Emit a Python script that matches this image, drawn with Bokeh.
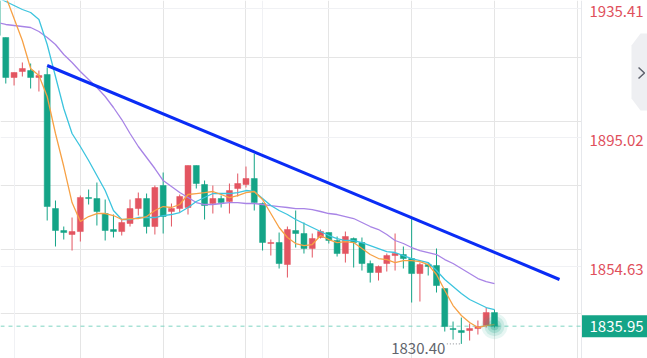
from bokeh.plotting import figure
from bokeh.models import (ColumnDataSource, Range1d, LinearAxis, FixedTicker, Grid,
                          CustomJSTickFormatter, Span)
from bokeh.core.properties import value
from bokeh.embed import file_html
from bokeh.resources import INLINE

# ---------------- data ----------------
opens = [1944.17, 1926.33, 1913.80, 1915.68, 1915.99, 1913.80, 1914.74, 1872.78, 1865.90, 1864.65,
         1865.58, 1876.23, 1875.91, 1871.22, 1866.21, 1865.58, 1868.09, 1872.78, 1875.91, 1867.15,
         1879.99, 1871.85, 1872.78, 1873.10, 1886.25, 1880.30, 1874.35, 1875.91, 1874.98, 1879.05,
         1880.30, 1882.18, 1874.35, 1861.83, 1862.14, 1855.25, 1865.90, 1864.96, 1860.26, 1863.71,
         1865.27, 1862.77, 1858.69, 1863.39, 1862.14, 1855.56, 1852.75, 1855.56, 1858.07, 1858.38,
         1857.13, 1852.43, 1855.25, 1854.94, 1847.74, 1835.21, 1834.59, 1834.59, 1835.21, 1836.15,
         1840.22]
highs = [1944.17, 1926.33, 1915.37, 1918.50, 1918.18, 1915.99, 1916.93, 1875.29, 1867.15, 1869.97,
         1876.85, 1878.73, 1880.93, 1875.60, 1870.91, 1869.34, 1875.60, 1877.79, 1877.48, 1879.99,
         1884.06, 1874.35, 1877.17, 1886.25, 1886.25, 1881.55, 1879.99, 1876.85, 1880.61, 1883.74,
         1885.93, 1890.00, 1874.66, 1863.08, 1865.27, 1867.15, 1872.16, 1868.40, 1864.96, 1866.21,
         1865.27, 1864.02, 1865.58, 1863.71, 1863.71, 1856.50, 1854.94, 1858.69, 1864.96, 1860.89,
         1869.65, 1855.87, 1855.87, 1860.26, 1847.74, 1837.40, 1838.65, 1836.78, 1837.72, 1841.79,
         1841.16]
lows = [1925.39, 1911.92, 1911.30, 1914.11, 1910.36, 1909.42, 1869.03, 1860.89, 1863.08, 1859.63,
        1862.45, 1874.04, 1867.46, 1862.77, 1863.71, 1864.33, 1867.15, 1870.59, 1864.96, 1864.65,
        1864.96, 1867.15, 1871.53, 1870.91, 1879.05, 1869.34, 1871.22, 1873.10, 1871.22, 1876.54,
        1879.36, 1872.16, 1859.63, 1858.07, 1854.00, 1851.18, 1860.57, 1858.69, 1857.44, 1863.39,
        1861.83, 1857.75, 1855.87, 1854.31, 1853.37, 1849.61, 1850.24, 1853.06, 1853.37, 1854.00,
        1843.35, 1843.67, 1851.81, 1846.49, 1834.27, 1831.77, 1830.40, 1831.45, 1833.33, 1835.53,
        1835.53]
closes = [1926.95, 1913.80, 1915.37, 1916.62, 1913.80, 1914.43, 1873.41, 1865.90, 1865.27, 1865.58,
          1876.23, 1875.91, 1871.85, 1865.90, 1865.58, 1868.40, 1872.78, 1875.91, 1867.15, 1879.36,
          1870.28, 1872.78, 1876.54, 1886.25, 1880.61, 1873.72, 1875.91, 1874.66, 1878.42, 1880.61,
          1882.18, 1874.66, 1862.14, 1862.14, 1855.56, 1866.21, 1864.96, 1860.26, 1863.39, 1865.58,
          1862.77, 1858.69, 1864.02, 1862.14, 1855.56, 1852.75, 1854.63, 1858.07, 1858.69, 1857.13,
          1852.43, 1855.25, 1854.63, 1848.67, 1835.84, 1834.90, 1833.96, 1835.21, 1835.84, 1840.22,
          1835.95]
ma_fast = [1945.74, 1939.16, 1932.27, 1925.39, 1916.62, 1914.43, 1907.85, 1896.27, 1885.93, 1874.66,
           1868.71, 1870.28, 1871.22, 1871.22, 1870.59, 1869.34, 1869.65, 1869.65, 1870.28, 1872.16,
           1873.41, 1873.10, 1874.04, 1877.17, 1877.48, 1877.79, 1878.11, 1877.17, 1876.23, 1876.85,
           1877.79, 1878.11, 1875.60, 1871.22, 1866.84, 1863.71, 1861.83, 1861.20, 1861.51, 1864.33,
           1863.08, 1862.14, 1862.45, 1862.14, 1860.26, 1858.38, 1857.13, 1856.81, 1855.87, 1856.50,
           1856.50, 1856.19, 1855.25, 1852.12, 1847.11, 1842.41, 1839.28, 1837.09, 1835.53, 1836.15,
           1836.47]
ma_mid = [1938.85, 1937.60, 1936.34, 1935.09, 1934.15, 1931.96, 1924.13, 1914.11, 1904.09, 1896.27,
          1892.20, 1887.82, 1883.12, 1878.42, 1872.16, 1869.34, 1869.34, 1869.97, 1869.97, 1869.97,
          1870.59, 1870.91, 1871.53, 1873.10, 1874.98, 1876.23, 1877.48, 1877.48, 1877.48, 1877.79,
          1878.42, 1878.11, 1875.91, 1873.72, 1872.16, 1870.91, 1869.34, 1868.09, 1866.84, 1865.58,
          1864.33, 1863.39, 1862.77, 1862.77, 1862.14, 1861.20, 1860.26, 1859.32, 1859.01, 1858.07,
          1857.13, 1856.50, 1855.87, 1853.37, 1850.55, 1848.36, 1846.17, 1844.29, 1843.04, 1841.79,
          1841.16]
ma_slow = [1931.02, 1930.40, 1930.08, 1929.77, 1929.46, 1928.20, 1926.33, 1924.13, 1921.00, 1918.50,
           1915.68, 1913.17, 1910.67, 1907.85, 1904.41, 1900.65, 1896.27, 1892.20, 1888.76, 1885.31,
           1881.55, 1879.67, 1877.79, 1876.23, 1874.66, 1874.04, 1874.04, 1874.35, 1874.66, 1874.66,
           1874.35, 1874.35, 1874.04, 1873.72, 1873.41, 1873.10, 1872.78, 1872.78, 1872.47, 1871.85,
           1871.22, 1870.91, 1870.28, 1869.65, 1868.40, 1867.15, 1866.21, 1864.65, 1862.77, 1861.83,
           1860.57, 1859.63, 1859.01, 1858.38, 1856.81, 1855.56, 1854.00, 1852.43, 1850.87, 1849.92,
           1849.30]
price_ticks = [1854.63, 1895.02, 1935.41]
time_grid = [2, 32]
trend_x = [6, 67.85]
trend_y = [1917.56, 1850.56]
last_price = 1835.95
min_price = 1830.40

# ---------------- layout / styling ----------------
X0, X_AXIS, X1 = 0.362, 70.51, 78.475      # left edge, price-axis position, right edge (in bar units)
Y0, Y1 = 1825.83, 1937.91
LABEL_DROP = 1.0                            # price labels sit ~3px below their grid line
UP = "#e35561"
DOWN = "#14a487"
FONT = value("Noto Sans CJK SC")

idx = list(range(len(opens)))
colors = [UP if c >= o else DOWN for o, c in zip(opens, closes)]
src = ColumnDataSource(dict(
    x=idx, top=[max(o, c) for o, c in zip(opens, closes)],
    bottom=[min(o, c) for o, c in zip(opens, closes)],
    high=highs, low=lows, color=colors))

p = figure(width=647, height=358, output_backend="svg", toolbar_location=None,
           x_axis_location=None, y_axis_location=None,
           x_range=Range1d(X0, X1), y_range=Range1d(Y0, Y1),
           min_border_left=0, min_border_top=0, min_border_bottom=0, min_border_right=0)
p.outline_line_color = None
p.background_fill_color = "white"
p.border_fill_color = "white"

yaxis = LinearAxis(ticker=FixedTicker(ticks=[t - LABEL_DROP for t in price_ticks]),
                   formatter=CustomJSTickFormatter(args=dict(d=LABEL_DROP),
                                                   code="return (tick + d).toFixed(2)"),
                   fixed_location=X_AXIS)
yaxis.axis_line_color = "#e6e8ec"
yaxis.major_tick_line_color = None
yaxis.minor_tick_line_color = None
yaxis.major_tick_out = 0
yaxis.major_tick_in = 0
yaxis.major_label_standoff = 8
yaxis.major_label_text_color = "#e0505c"
yaxis.major_label_text_font = "Noto Sans CJK SC"
yaxis.major_label_text_font_size = "15px"
p.add_layout(yaxis, "right")

p.add_layout(Grid(dimension=1, ticker=FixedTicker(ticks=price_ticks), grid_line_color="#f0f1f4"))
p.add_layout(Grid(dimension=0, ticker=FixedTicker(ticks=time_grid), grid_line_color="#f0f1f4"))

p.add_layout(Span(location=last_price, dimension="width", line_color="#7fd4c2",
                  line_dash="4 4", line_width=1, level="underlay"))

# blank price-scale area (hides grid / dashed line right of the axis)
p.quad(left=[X_AXIS], right=[X1 + 1], bottom=[Y0 - 1], top=[Y1 + 1],
       fill_color="white", line_color=None)

# candles
p.segment(x0="x", y0="high", x1="x", y1="low", line_color="color", line_width=1, source=src)
p.vbar(x="x", width=0.72, top="top", bottom="bottom", fill_color="color",
       line_color="color", line_width=0.5, source=src)

# moving averages
p.line(idx, ma_slow, line_color="#a884e6", line_width=1.3)
p.line(idx, ma_mid, line_color="#3cc4de", line_width=1.3)
p.line(idx, ma_fast, line_color="#f7a145", line_width=1.3)

# trend line
p.line(trend_x, trend_y, line_color="#0a2cf5", line_width=3)

# glow on the last candle
last_i = idx[-1]
for sz, a in [(26, 0.10), (20, 0.14), (14, 0.20), (8, 0.30)]:
    p.scatter([last_i], [last_price], size=sz, fill_color=DOWN, fill_alpha=a, line_color=None)

# minimum label
imin = lows.index(min(lows))
p.segment(x0=[imin - 1.75], y0=[min_price], x1=[imin - 0.15], y1=[min_price],
          line_color="#8a8d93", line_dash="1 2", line_width=1)
p.text(x=[imin], y=[min_price], text=[f"{min_price:.2f}"], x_offset=-16, y_offset=5,
       text_align="right", text_baseline="middle", text_color="#62656c",
       text_font=FONT, text_font_size="15px")

# last price tag
p.rect(x=[(X_AXIS + X1 + 1) / 2], y=[last_price], width=[X1 + 1 - X_AXIS], height=[22],
       height_units="screen", fill_color=DOWN, line_color=None)
p.text(x=[X_AXIS], y=[last_price], text=[f"{last_price:.2f}"], x_offset=8,
       text_align="left", text_baseline="middle", text_color="white",
       text_font=FONT, text_font_size="15px")

# side collapse button (hexagonal tab with a chevron)
bx = [X1 + 1, 77.63, 76.54, 76.54, 77.63, X1 + 1]
by = [1927.58, 1927.58, 1923.82, 1907.23, 1903.47, 1903.47]
p.patch(bx, by, fill_color="#eeeff2", line_color=None)
p.line([77.39, 78.11, 77.39], [1916.93, 1915.21, 1913.49], line_color="#5d616c", line_width=1.5)

open("out.html", "w").write(file_html(p, INLINE))
